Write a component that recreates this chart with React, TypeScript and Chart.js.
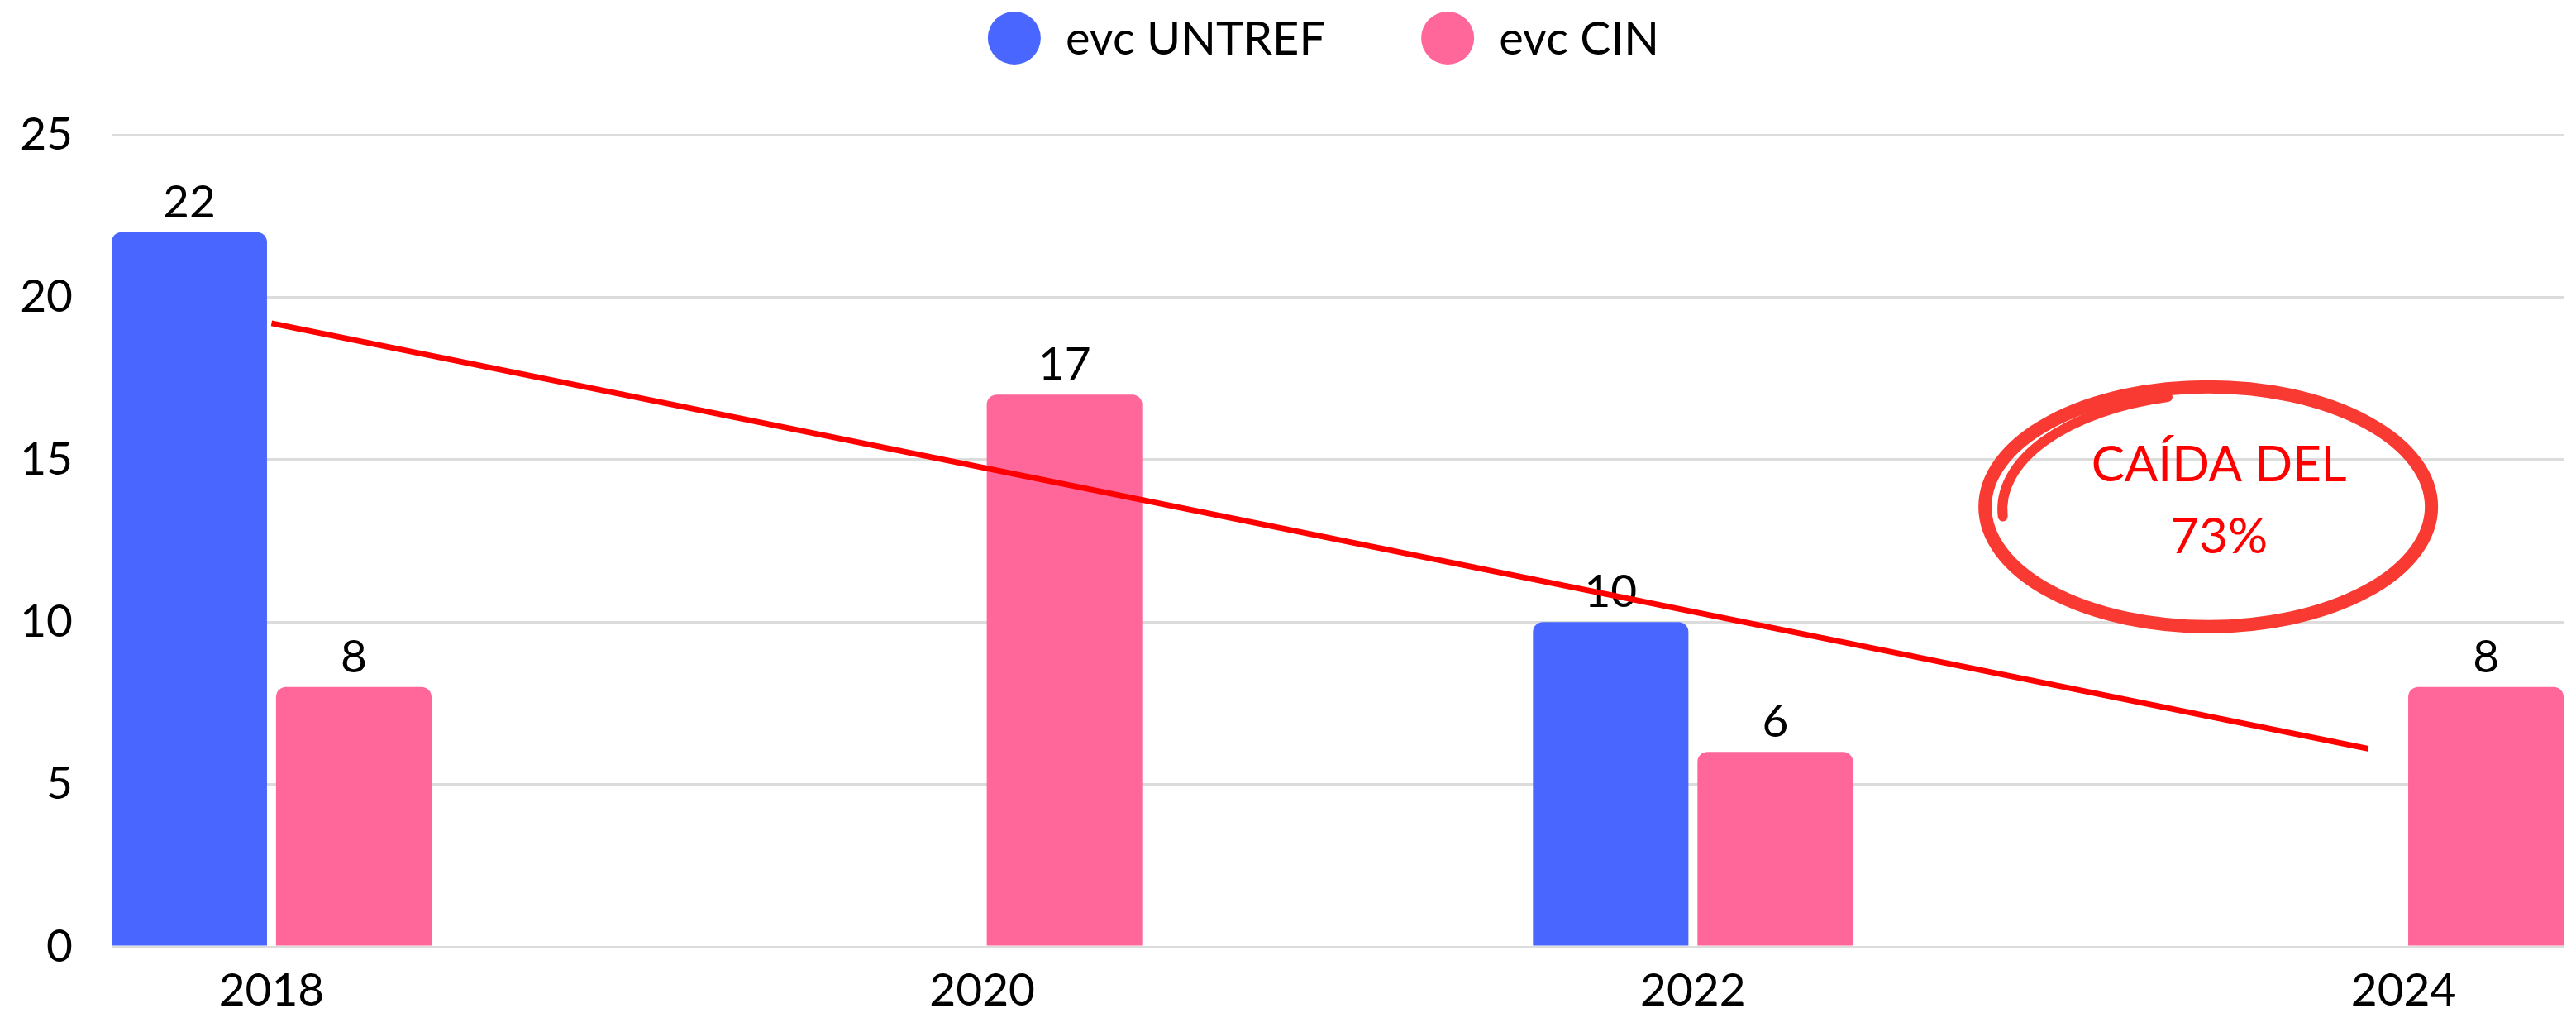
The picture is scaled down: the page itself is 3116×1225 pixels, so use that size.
import React, { useEffect, useRef } from 'react';
import { Chart, registerables } from 'chart.js';

Chart.register(...registerables);

// ---- data ----
const YEARS = [2018, 2020, 2022, 2024];
const UNTREF_VALUES: (number | null)[] = [22, null, 10, null];
const CIN_VALUES: (number | null)[] = [8, 17, 6, 8];
const SERIES_NAMES = ['evc UNTREF', 'evc CIN'];
const SERIES_COLORS = ['#4966FF', '#FF6699'];
const Y_TICKS = [0, 5, 10, 15, 20, 25];
// hand-drawn trend line (data units: year, value)
const TREND_X = [2018, 2023.9];
const TREND_Y = [19.2, 6.1];
// circled note (data units)
const NOTE_LINES = ['CAÍDA DEL', '73%'];
const NOTE_AT = [2023.45, 13.55];

const FONT = 'Lato, "Open Sans", sans-serif';

const overlayPlugin = {
  id: 'overlay',
  afterDatasetDraw(chart: any, args: any) {
    const ds = chart.data.datasets[args.index];
    if (ds.type === 'line') return;
    const ctx = chart.ctx;
    ctx.save();
    ctx.font = `55px ${FONT}`;
    ctx.fillStyle = '#000';
    ctx.textAlign = 'center';
    ctx.textBaseline = 'alphabetic';
    args.meta.data.forEach((el: any, i: number) => {
      const v = ds.data[i].y;
      if (v == null) return;
      ctx.fillText(String(v), el.x, el.y - 18);
    });
    ctx.restore();
  },
  afterDraw(chart: any) {
    const { ctx } = chart;
    const xs = chart.scales.x;
    const ys = chart.scales.y;
    // legend
    ctx.save();
    ctx.font = `56px ${FONT}`;
    ctx.textBaseline = 'middle';
    ctx.textAlign = 'left';
    const items = chart.data.datasets.filter((d: any) => d.type !== 'line');
    const D = 64, GAP = 30, ITEM_GAP = 116;
    const widths = items.map((d: any) => D + GAP + ctx.measureText(d.label).width);
    const total = widths.reduce((a: number, b: number) => a + b, 0) + ITEM_GAP * (items.length - 1);
    let lx = chart.width / 2 + 43 - total / 2;
    const ly = 46;
    items.forEach((d: any, i: number) => {
      ctx.fillStyle = d.backgroundColor;
      ctx.beginPath();
      ctx.arc(lx + D / 2, ly, D / 2, 0, Math.PI * 2);
      ctx.fill();
      ctx.fillStyle = '#000';
      ctx.fillText(d.label, lx + D + GAP, ly + 2);
      lx += widths[i] + ITEM_GAP;
    });
    ctx.restore();

    // circled note
    const cx = xs.getPixelForValue(NOTE_AT[0]);
    const cy = ys.getPixelForValue(NOTE_AT[1]);
    ctx.save();
    ctx.strokeStyle = '#F93A32';
    ctx.lineWidth = 16;
    ctx.beginPath();
    ctx.ellipse(cx, cy, 270, 145, 0, 0, Math.PI * 2);
    ctx.stroke();
    ctx.lineWidth = 12;
    ctx.lineCap = 'round';
    ctx.beginPath();
    ctx.ellipse(cx + 17, cy + 3, 266, 140, 0, Math.PI * 0.98, Math.PI * 1.42);
    ctx.stroke();
    ctx.fillStyle = '#FF0000';
    ctx.font = `60px ${FONT}`;
    ctx.textAlign = 'center';
    ctx.textBaseline = 'alphabetic';
    ctx.fillText(NOTE_LINES[0], cx + 13, cy - 31);
    ctx.fillText(NOTE_LINES[1], cx + 13, cy + 56);
    ctx.restore();
  },
};

export default function App() {
  const ref = useRef<HTMLCanvasElement | null>(null);

  useEffect(() => {
    document.body.style.margin = '0';
    if (!ref.current) return;
    const chart = new Chart(ref.current, {
      type: 'bar',
      data: {
        datasets: [
          {
            label: SERIES_NAMES[0],
            data: YEARS.map((x, i) => ({ x, y: UNTREF_VALUES[i] })),
            backgroundColor: SERIES_COLORS[0],
            borderRadius: 12,
            categoryPercentage: 0.463,
            barPercentage: 0.945,
          } as any,
          {
            label: SERIES_NAMES[1],
            data: YEARS.map((x, i) => ({ x, y: CIN_VALUES[i] })),
            backgroundColor: SERIES_COLORS[1],
            borderRadius: 12,
            categoryPercentage: 0.463,
            barPercentage: 0.945,
          } as any,
          {
            type: 'line',
            label: 'trend',
            data: TREND_X.map((x, i) => ({ x, y: TREND_Y[i] })),
            borderColor: '#FF0000',
            borderWidth: 7,
            pointRadius: 0,
            fill: false,
            order: -1,
          } as any,
        ],
      },
      options: {
        animation: false,
        responsive: false,
        devicePixelRatio: 1,
        layout: { padding: { top: 163, right: 15, left: 0, bottom: 0 } },
        plugins: {
          legend: { display: false },
          tooltip: { enabled: false },
        },
        scales: {
          x: {
            type: 'linear',
            offset: false,
            min: YEARS[0] - 0.45,
            max: YEARS[YEARS.length - 1] + 0.45,
            afterBuildTicks: (s: any) => {
              s.ticks = YEARS.map((v) => ({ value: v }));
            },
            afterFit: (s: any) => {
              s.height = 78;
            },
            grid: { display: false, offset: false, drawTicks: false },
            border: { display: false },
            ticks: {
              autoSkip: false,
              maxRotation: 0,
              padding: 20,
              color: '#000',
              font: { family: FONT, size: 55 },
              callback: (v: any) => String(v),
            },
          },
          y: {
            min: 0,
            max: 25,
            afterBuildTicks: (s: any) => {
              s.ticks = Y_TICKS.map((v) => ({ value: v }));
            },
            afterFit: (s: any) => {
              s.width = 135;
            },
            grid: { color: '#DCDCDC', lineWidth: 3, drawTicks: false },
            border: { display: false },
            ticks: {
              padding: 47,
              color: '#000',
              font: { family: FONT, size: 55 },
            },
          },
        },
      } as any,
      plugins: [overlayPlugin],
    });
    return () => chart.destroy();
  }, []);

  return (
    <div style={{ width: 3116, height: 1225 }}>
      <canvas ref={ref} width={3116} height={1225} style={{ display: 'block' }} />
    </div>
  );
}
